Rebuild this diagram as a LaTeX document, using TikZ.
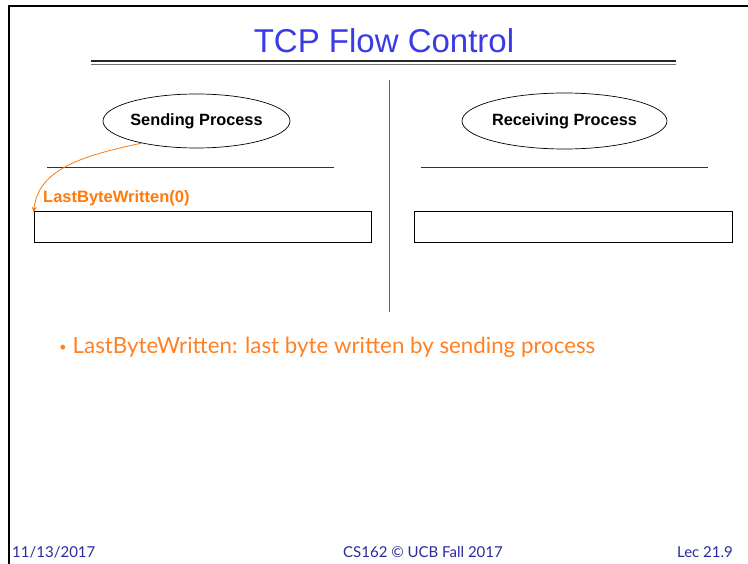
\documentclass[tikz,border=0pt]{standalone}
\usepackage{fontspec}
\setmainfont{Liberation Sans}
\newfontfamily\fuentePie{Lato}
\usetikzlibrary{arrows.meta, positioning, shapes.geometric}
\definecolor{azulTitulo}{HTML}{3A3AE6}
\definecolor{naranjaTexto}{HTML}{FF8124}
\definecolor{naranjaFlecha}{HTML}{FF7A0A}
\definecolor{azulPie}{HTML}{2A2A9C}
\colorlet{colBorde}{black}
\colorlet{colDivisor}{black!60}
\tikzset{
  elipseProceso/.style={
    ellipse, draw=colBorde, line width=0.7pt, inner sep=0pt,
    font=\fontsize{16.3}{18}\selectfont\bfseries
  },
  cajaBuffer/.style={
    draw=colBorde, line width=0.7pt, inner sep=0pt, minimum height=31pt
  },
  lineaBuffer/.style={draw=black!80, line width=0.7pt},
  flecha/.style={-{Stealth[length=6pt, width=5pt]}, thick, naranjaFlecha},
  etiquetaFlecha/.style={font=\fontsize{16.5}{18}\selectfont\bfseries,
    text=naranjaFlecha, inner sep=0pt},
  textoPie/.style={font=\fuentePie\fontsize{15}{16}\selectfont, text=azulPie,
    inner sep=0pt},
}
\begin{document}
\begin{tikzpicture}[x=1pt, y=-1pt]
  \useasboundingbox (0,0) rectangle (748,564);
  \fill[white] (0,0) rectangle (748,564);
  % marco de la diapositiva
  \draw[line width=2pt, colBorde] (9,564) -- (9,6) -- (748,6);

  % titulo y doble raya
  \node[font=\fontsize{33}{36}\selectfont, text=azulTitulo, inner sep=0pt]
    (titulo) at (384,41) {TCP Flow Control};
  \draw[line width=1.6pt, black!85] (91,61) -- (676,61);
  \draw[line width=0.6pt, black!55] (91,64.5) -- (676,64.5);

  % divisor central
  \draw[colDivisor, line width=0.8pt] (389,80) -- (389,312);

  % emisor
  \node[elipseProceso, minimum width=175pt, minimum height=54pt]
    (emisor) at (196.5,121) {Sending Process};
  \draw[lineaBuffer] (47,167) -- (334,167);
  \node[cajaBuffer, minimum width=337pt] (bufEmisor) at (202.5,226.5) {};

  % receptor
  \node[elipseProceso, minimum width=189pt, minimum height=56pt]
    (receptor) at (564.5,121) {Receiving Process};
  \draw[lineaBuffer] (421,167) -- (708,167);
  \node[cajaBuffer, minimum width=318pt] (bufReceptor) at (573,226.5) {};

  % puntero LastByteWritten
  \coordinate (finFlecha) at ([yshift=-2pt]bufEmisor.north west);
  \draw[flecha] (emisor.-158) .. controls (80,156) and (38,170) .. (finFlecha);
  \node[etiquetaFlecha, anchor=base west] (lbw) at (43,203) {LastByteWritten(0)};

  % vineta
  \node[font=\fuentePie\fontsize{22.3}{26}\selectfont, text=naranjaTexto,
    inner sep=0pt, anchor=base west] (vineta) at (59,354)
    {{\fontsize{13}{13}\selectfont\raisebox{2pt}{\textbullet}}\hspace{6pt}LastByteWritten: last byte written by sending process};

  % pie
  \node[textoPie, anchor=base west] (fecha) at (12,557) {11/13/2017};
  \node[textoPie, anchor=base] (curso) at (423,557) {CS162 © UCB Fall 2017};
  \node[textoPie, anchor=base east] (lec) at (733,557) {Lec 21.9};
\end{tikzpicture}
\end{document}
